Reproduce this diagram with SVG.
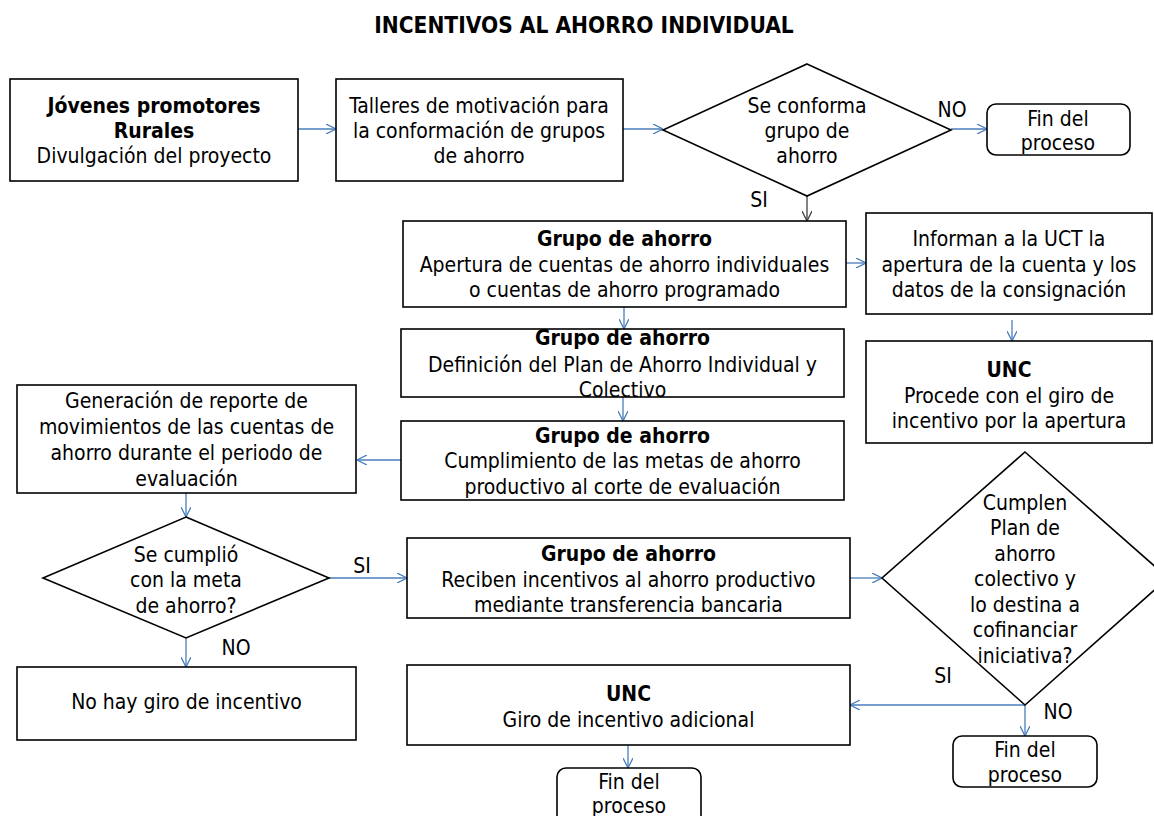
<svg xmlns="http://www.w3.org/2000/svg" width="1154" height="816" viewBox="0 0 1154 816">
<style>
.bx{fill:#fff;stroke:#000;stroke-width:1.6}
.t{font-family:"DejaVu Sans Condensed","DejaVu Sans",sans-serif;font-size:21px;fill:#000;text-anchor:middle}
.b{font-weight:bold}
.c{fill:none;stroke:#4A7EBB;stroke-width:1.3}
.cd{fill:none;stroke:#404040;stroke-width:1.3}
.title{font-family:"DejaVu Sans Condensed","DejaVu Sans",sans-serif;font-size:22.5px;font-weight:bold;text-anchor:middle}
</style>
<defs>
<marker id="a" viewBox="0 0 10 10" refX="10" refY="5" markerWidth="10" markerHeight="10" markerUnits="userSpaceOnUse" orient="auto"><path d="M0,0 L10,5 L0,10" fill="none" stroke="#4A7EBB" stroke-width="1.3"/></marker>
<marker id="ad" viewBox="0 0 10 10" refX="10" refY="5" markerWidth="10" markerHeight="10" markerUnits="userSpaceOnUse" orient="auto"><path d="M0,0 L10,5 L0,10" fill="none" stroke="#404040" stroke-width="1.3"/></marker>
</defs>
<rect width="1154" height="816" fill="#fff"/>
<text class="title" x="584" y="33">INCENTIVOS AL AHORRO INDIVIDUAL</text>

<g id="connectors">
<path class="c" d="M298,129 H336" marker-end="url(#a)"/>
<path class="c" d="M623,129 H663" marker-end="url(#a)"/>
<path class="c" d="M951,129 H987" marker-end="url(#a)"/>
<path class="cd" d="M807,196 V221" marker-end="url(#ad)"/>
<path class="c" d="M846,263 H866" marker-end="url(#a)"/>
<path class="c" d="M1012,320 V341" marker-end="url(#a)"/>
<path class="c" d="M624,307 V329" marker-end="url(#a)"/>
<path class="c" d="M623,397 V421" marker-end="url(#a)"/>
<path class="c" d="M401,460 H357" marker-end="url(#a)"/>
<path class="c" d="M186,493 V517" marker-end="url(#a)"/>
<path class="c" d="M329,578 H407" marker-end="url(#a)"/>
<path class="c" d="M186,638 V667" marker-end="url(#a)"/>
<path class="c" d="M850,578 H882" marker-end="url(#a)"/>
<path class="c" d="M1025,705 H850" marker-end="url(#a)"/>
<path class="c" d="M1025,705 V736" marker-end="url(#a)"/>
<path class="c" d="M628,745 V768" marker-end="url(#a)"/>
<text class="t" x="952" y="117">NO</text>
<text class="t" x="759" y="207">SI</text>
<text class="t" x="362" y="573">SI</text>
<text class="t" x="236" y="655">NO</text>
<text class="t" x="943" y="683">SI</text>
<text class="t" x="1058" y="719">NO</text>
</g>

<g id="n1"><rect class="bx" x="10" y="79" width="288" height="102"/>
<text class="t"><tspan class="b" x="154" y="113">Jóvenes promotores</tspan><tspan class="b" x="154" y="138">Rurales</tspan><tspan x="154" y="163">Divulgación del proyecto</tspan></text></g>

<g id="n2"><rect class="bx" x="336" y="79" width="287" height="102"/>
<text class="t"><tspan x="479" y="113">Talleres de motivación para</tspan><tspan x="479" y="138">la conformación de grupos</tspan><tspan x="479" y="163">de ahorro</tspan></text></g>

<g id="d1"><path class="bx" d="M807,64 L951,130 L807,196 L663,130 Z"/>
<text class="t"><tspan x="807" y="113">Se conforma</tspan><tspan x="807" y="138">grupo de</tspan><tspan x="807" y="163">ahorro</tspan></text></g>

<g id="f1"><rect class="bx" x="987" y="104" width="143" height="51" rx="9"/>
<text class="t"><tspan x="1058" y="126">Fin del</tspan><tspan x="1058" y="150">proceso</tspan></text></g>

<g id="n3"><rect class="bx" x="403" y="221" width="443" height="86"/>
<text class="t"><tspan class="b" x="624.5" y="246">Grupo de ahorro</tspan><tspan x="624.5" y="272">Apertura de cuentas de ahorro individuales</tspan><tspan x="624.5" y="297">o cuentas de ahorro programado</tspan></text></g>

<g id="n10"><rect class="bx" x="866" y="213" width="286" height="101"/>
<text class="t"><tspan x="1009" y="246">Informan a la UCT la</tspan><tspan x="1009" y="272">apertura de la cuenta y los</tspan><tspan x="1009" y="297">datos de la consignación</tspan></text></g>

<g id="n11"><rect class="bx" x="866" y="341" width="286" height="102"/>
<text class="t"><tspan class="b" x="1009" y="377">UNC</tspan><tspan x="1009" y="403">Procede con el giro de</tspan><tspan x="1009" y="428">incentivo por la apertura</tspan></text></g>

<g id="n4"><rect class="bx" x="401" y="329" width="443" height="68"/>
<text class="t"><tspan class="b" x="622.5" y="345">Grupo de ahorro</tspan><tspan x="622.5" y="372">Definición del Plan de Ahorro Individual y</tspan><tspan x="622.5" y="397">Colectivo</tspan></text></g>

<g id="n5"><rect class="bx" x="401" y="421" width="443" height="79"/>
<text class="t"><tspan class="b" x="622.5" y="443">Grupo de ahorro</tspan><tspan x="622.5" y="468">Cumplimiento de las metas de ahorro</tspan><tspan x="622.5" y="494">productivo al corte de evaluación</tspan></text></g>

<g id="n6"><rect class="bx" x="17" y="385" width="339" height="108"/>
<text class="t"><tspan x="186.5" y="408">Generación de reporte de</tspan><tspan x="186.5" y="434">movimientos de las cuentas de</tspan><tspan x="186.5" y="460">ahorro durante el periodo de</tspan><tspan x="186.5" y="486">evaluación</tspan></text></g>

<g id="d2"><path class="bx" d="M186,517 L329,578 L186,638 L43,578 Z"/>
<text class="t"><tspan x="186" y="562">Se cumplió</tspan><tspan x="186" y="587">con la meta</tspan><tspan x="186" y="613">de ahorro?</tspan></text></g>

<g id="n8"><rect class="bx" x="17" y="667" width="339" height="73"/>
<text class="t" x="186.5" y="709">No hay giro de incentivo</text></g>

<g id="n7"><rect class="bx" x="407" y="538" width="443" height="80"/>
<text class="t"><tspan class="b" x="628.5" y="561">Grupo de ahorro</tspan><tspan x="628.5" y="587">Reciben incentivos al ahorro productivo</tspan><tspan x="628.5" y="612">mediante transferencia bancaria</tspan></text></g>

<g id="d3"><path class="bx" d="M1025,452 L1168,578 L1025,705 L882,578 Z"/>
<text class="t"><tspan x="1025" y="510">Cumplen</tspan><tspan x="1025" y="535">Plan de</tspan><tspan x="1025" y="561">ahorro</tspan><tspan x="1025" y="586">colectivo y</tspan><tspan x="1025" y="612">lo destina a</tspan><tspan x="1025" y="637">cofinanciar</tspan><tspan x="1025" y="663">iniciativa?</tspan></text></g>

<g id="n9"><rect class="bx" x="407" y="665" width="443" height="80"/>
<text class="t"><tspan class="b" x="628.5" y="701">UNC</tspan><tspan x="628.5" y="727">Giro de incentivo adicional</tspan></text></g>

<g id="f2"><rect class="bx" x="557" y="768" width="144" height="60" rx="9"/>
<text class="t"><tspan x="629" y="789">Fin del</tspan><tspan x="629" y="813">proceso</tspan></text></g>

<g id="f3"><rect class="bx" x="953" y="736" width="144" height="51" rx="9"/>
<text class="t"><tspan x="1025" y="757">Fin del</tspan><tspan x="1025" y="782">proceso</tspan></text></g>
</svg>
